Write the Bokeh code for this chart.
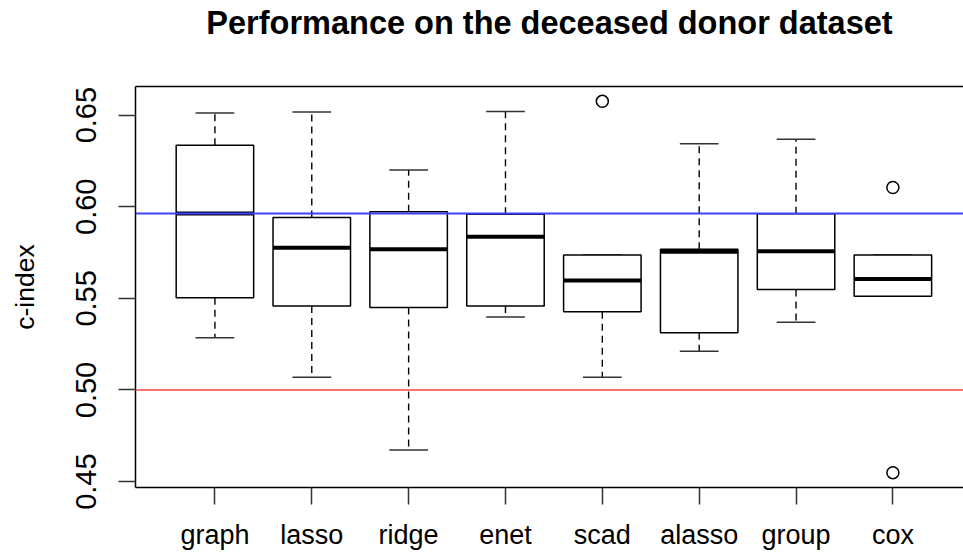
from bokeh.plotting import figure
from bokeh.models import Range1d, FixedTicker, LinearAxis, Span, ColumnDataSource
from bokeh.embed import file_html
from bokeh.resources import INLINE

# c-index summaries per method (whisker ends, quartiles, median)
methods = ["graph", "lasso", "ridge", "enet", "scad", "alasso", "group", "cox"]
lower = [0.5285, 0.5069, 0.4673, 0.5398, 0.5069, 0.5211, 0.5369, 0.5511]
q1 = [0.5503, 0.5459, 0.5450, 0.5459, 0.5427, 0.5312, 0.5549, 0.5511]
median = [0.5963, 0.5776, 0.5768, 0.5836, 0.5598, 0.5754, 0.5757, 0.5605]
q3 = [0.6335, 0.5941, 0.5972, 0.5959, 0.5736, 0.5768, 0.5961, 0.5736]
upper = [0.6511, 0.6517, 0.6201, 0.6520, 0.5736, 0.6344, 0.6368, 0.5736]
outlier_method = ["scad", "cox", "cox"]
outlier_value = [0.6575, 0.6105, 0.4549]
reference_level = 0.5
title_text = "Performance on the deceased donor dataset"

FONT = "Liberation Sans"
pos = list(range(1, len(methods) + 1))
half_box = 0.4
half_cap = 0.2

src = ColumnDataSource(dict(
    x=pos, lower=lower, q1=q1, median=median, q3=q3, upper=upper,
    left=[v - half_box for v in pos], right=[v + half_box for v in pos],
    cl=[v - half_cap for v in pos], cr=[v + half_cap for v in pos],
))

p = figure(width=963, height=556, output_backend="svg", toolbar_location=None,
           x_range=Range1d(0.18, 8.729), y_range=Range1d(0.4468, 0.6656),
           min_border_left=135, min_border_right=0, min_border_top=86,
           min_border_bottom=69, background_fill_color="white",
           border_fill_color="white", outline_line_color=None)
p.xgrid.visible = False
p.ygrid.visible = False

# reference lines: chance level and best median
p.add_layout(Span(location=reference_level, dimension="width",
                  line_color="#ff5a5a", line_width=2, line_alpha=0.85))
p.add_layout(Span(location=median[0], dimension="width",
                  line_color="#4040ff", line_width=1.8))

# whiskers
p.segment(x0="x", y0="q3", x1="x", y1="upper", source=src,
          line_color="black", line_width=1.4, line_dash="7 5")
p.segment(x0="x", y0="q1", x1="x", y1="lower", source=src,
          line_color="black", line_width=1.4, line_dash="7 5")
p.segment(x0="cl", y0="upper", x1="cr", y1="upper", source=src,
          line_color="#333333", line_width=1.5)
p.segment(x0="cl", y0="lower", x1="cr", y1="lower", source=src,
          line_color="#333333", line_width=1.5)

# boxes and medians
p.quad(left="left", right="right", bottom="q1", top="q3", source=src,
       fill_color="white", line_color="black", line_width=1.5)
p.segment(x0="left", y0="median", x1="right", y1="median", source=src,
          line_color="black", line_width=4)

# outliers
ox = [pos[methods.index(m)] for m in outlier_method]
p.scatter(ox, outlier_value, marker="circle", size=12, fill_color=None,
          line_color="black", line_width=1.5)

# axes
xa = p.xaxis[0]
xa.ticker = FixedTicker(ticks=pos)
xa.major_label_overrides = {v: m for v, m in zip(pos, methods)}
ya = p.yaxis[0]
ya.ticker = FixedTicker(ticks=[0.45, 0.50, 0.55, 0.60, 0.65])
ya.major_label_overrides = {0.45: "0.45", 0.5: "0.50", 0.55: "0.55",
                            0.6: "0.60", 0.65: "0.65"}
ya.major_label_orientation = "vertical"
ya.axis_label = "c-index"
for ax in (xa, ya):
    ax.axis_line_color = "black"
    ax.axis_line_width = 1.5
    ax.major_tick_line_color = "#333333"
    ax.major_tick_line_width = 1.5
    ax.major_tick_in = 0
    ax.major_tick_out = 17
    ax.minor_tick_line_color = None
    ax.major_label_text_font = FONT
    ax.major_label_text_color = "black"
    ax.axis_label_text_font = FONT
    ax.axis_label_text_font_size = "26.5px"
    ax.axis_label_text_font_style = "normal"
    ax.axis_label_text_color = "black"
xa.major_label_text_font_size = "27px"
ya.major_label_text_font_size = "29px"
xa.major_label_standoff = 15
ya.major_label_standoff = 22
ya.axis_label_standoff = 34

# top border of the plotting box, carrying the chart title
top = LinearAxis(ticker=FixedTicker(ticks=[]), axis_line_color="black",
                 axis_line_width=1.5, major_tick_line_color=None,
                 minor_tick_line_color=None, major_tick_out=0,
                 major_tick_in=0, major_label_standoff=0,
                 axis_label=title_text, axis_label_text_font=FONT,
                 axis_label_text_font_size="32.5px",
                 axis_label_text_font_style="bold",
                 axis_label_text_color="black", axis_label_standoff=46)
p.add_layout(top, "above")

open("out.html", "w").write(file_html(p, INLINE))
